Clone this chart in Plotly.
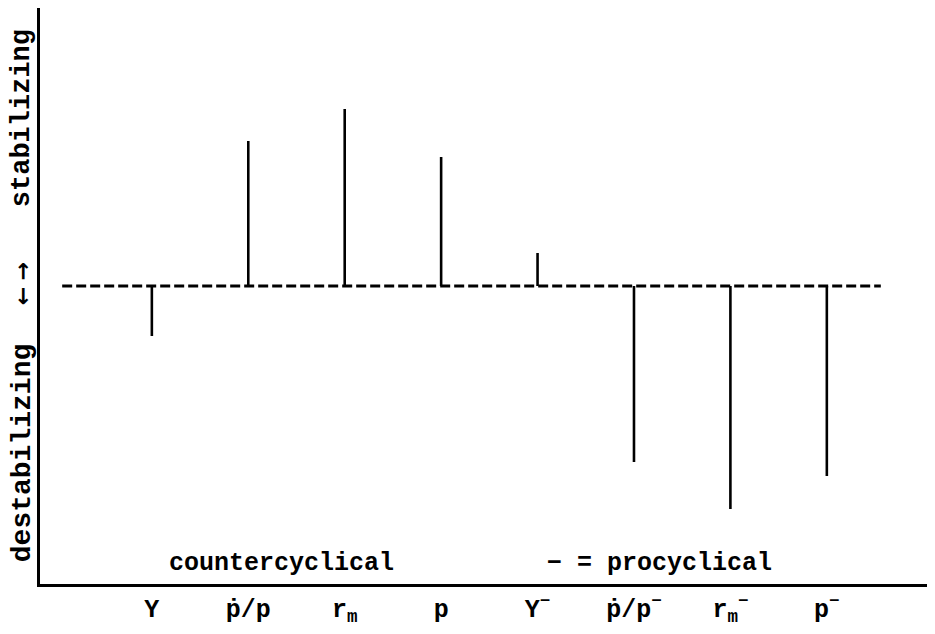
import plotly.graph_objects as go

categories = ["Y", "p\u0307/p", "r<sub>m</sub>", "p", "Y<sup>\u2212</sup>",
              "p\u0307/p<sup>\u2212</sup>", "r<sub>m</sub><sup>\u2212</sup>", "p<sup>\u2212</sup>"]
values = [-50, 145, 177, 129, 33, -176, -223, -190]

positions = list(range(1, len(categories) + 1))

FONT = "Liberation Mono"

xs, ys = [], []
for p, v in zip(positions, values):
    xs += [p, p, None]
    ys += [0, v, None]

fig = go.Figure()
# dashed baseline
fig.add_trace(go.Scatter(x=[0.07, 8.56], y=[0, 0], mode="lines",
                         line=dict(color="black", width=3, dash="10px,4px"),
                         hoverinfo="skip", showlegend=False))
# spikes
fig.add_trace(go.Scatter(x=xs, y=ys, mode="lines",
                         line=dict(color="black", width=2.6),
                         showlegend=False))

fig.update_xaxes(range=[-0.16, 9.07], tickvals=positions,
                 ticktext=["<b>" + c + "</b>" for c in categories],
                 showgrid=False, zeroline=False, showline=True, linecolor="black",
                 linewidth=2.5, ticks="", tickfont=dict(family=FONT, size=25, color="black"))
fig.update_yaxes(range=[-298, 278], showgrid=False, zeroline=False, showline=True,
                 linecolor="black", linewidth=2.5, showticklabels=False, ticks="")

ann_font = dict(family=FONT, size=25, color="black")
fig.add_annotation(x=2.34, y=-277, text="<b>countercyclical</b>", showarrow=False,
                   font=ann_font, xanchor="center", yanchor="middle")
fig.add_annotation(x=6.26, y=-277, text="<b>\u2212 = procyclical</b>", showarrow=False,
                   font=ann_font, xanchor="center", yanchor="middle")

fig.add_annotation(xref="paper", x=-0.02, yref="y", y=168, text="<b>stabilizing</b>",
                   textangle=-90, showarrow=False,
                   font=dict(family=FONT, size=27, color="black"),
                   xanchor="center", yanchor="middle")
fig.add_annotation(xref="paper", x=-0.02, yref="y", y=-167, text="<b>destabilizing</b>",
                   textangle=-90, showarrow=False,
                   font=dict(family=FONT, size=28, color="black"),
                   xanchor="center", yanchor="middle")
arrow_font = dict(family="DejaVu Sans", size=22, color="black")
fig.add_annotation(xref="paper", x=-0.02, yref="y", y=15, text="<b>\u2192</b>",
                   textangle=-90, showarrow=False, font=arrow_font,
                   xanchor="center", yanchor="middle")
fig.add_annotation(xref="paper", x=-0.02, yref="y", y=-10, text="<b>\u2190</b>",
                   textangle=-90, showarrow=False, font=arrow_font,
                   xanchor="center", yanchor="middle")

# page body has an 8px margin: offset the figure accordingly
fig.update_layout(width=927, height=626, margin=dict(l=32, r=5, t=0, b=50),
                  paper_bgcolor="white", plot_bgcolor="white",
                  font=dict(family=FONT, color="black"))

fig.write_html("out.html")
